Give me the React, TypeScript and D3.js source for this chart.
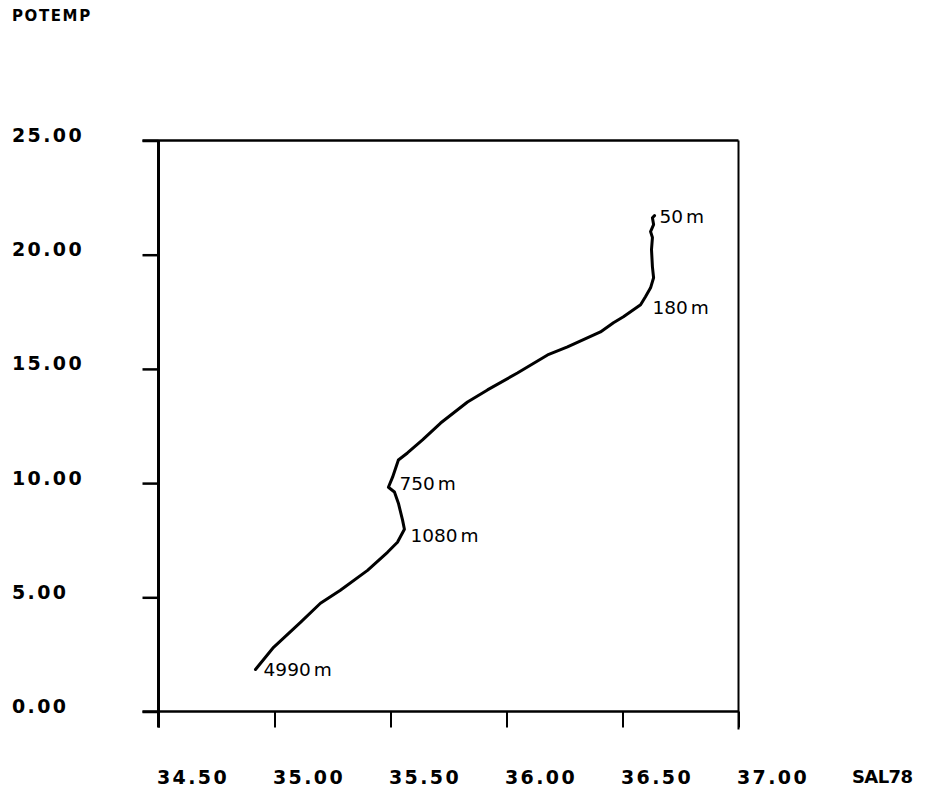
import React, { useEffect, useRef } from 'react';
import * as d3 from 'd3';

// salinity (SAL78) / potential temperature pairs from bottom to surface
const salinity = [
  34.918, 34.996, 35.112, 35.198, 35.284, 35.401, 35.487, 35.53, 35.56, 35.552, 35.534, 35.517, 35.491,
  35.509, 35.534, 35.573, 35.638, 35.716, 35.832, 35.918, 36.047, 36.177, 36.263, 36.405, 36.461, 36.504,
  36.578, 36.599, 36.621, 36.634, 36.629, 36.625, 36.629, 36.621, 36.634, 36.629, 36.638,
];
const potemp = [
  1.84, 2.81, 3.9, 4.74, 5.31, 6.18, 6.97, 7.41, 7.98, 8.38, 9.12, 9.61, 9.82, 10.26, 11.01, 11.32, 11.89,
  12.63, 13.55, 14.08, 14.82, 15.61, 15.96, 16.62, 17.02, 17.28, 17.81, 18.16, 18.55, 18.99, 19.47, 20.22,
  20.75, 21.01, 21.32, 21.62, 21.71,
];

// depth annotations (text anchor in data units)
const depthLabels = ['50', '180', '750', '1080', '4990'];
const depthLabelS = [36.659, 36.629, 35.539, 35.586, 34.953];
const depthLabelT = [21.39, 17.4, 9.7, 7.42, 1.56];

const xTicks = [34.5, 35.0, 35.5, 36.0, 36.5, 37.0];
const yTicks = [0, 5, 10, 15, 20, 25];

export default function App() {
  const ref = useRef<SVGSVGElement>(null);

  function drawChart() {
    const svg = d3.select(ref.current);
    svg.selectAll('*').remove();

    const left = 158.5;
    const right = 738.5;
    const top = 140.5;
    const bottom = 711.5;

    const x = d3.scaleLinear().domain([34.5, 37]).range([left, right]);
    const y = d3.scaleLinear().domain([0, 25]).range([bottom, top]);

    // frame: top and right edges
    svg
      .append('line')
      .attr('x1', left - 16)
      .attr('x2', right)
      .attr('y1', top)
      .attr('y2', top)
      .attr('stroke', '#000')
      .attr('stroke-width', 2.5);
    svg
      .append('line')
      .attr('x1', right)
      .attr('x2', right)
      .attr('y1', top)
      .attr('y2', bottom + 18)
      .attr('stroke', '#000')
      .attr('stroke-width', 2);

    const yAxis = d3
      .axisLeft(y)
      .tickValues(yTicks)
      .tickSize(16)
      .tickSizeOuter(0)
      .tickFormat(d3.format('.2f'));
    const xAxis = d3
      .axisBottom(x)
      .tickValues(xTicks)
      .tickSize(16)
      .tickSizeOuter(0)
      .tickFormat(d3.format('.2f'));

    const tickFont = (sel: any) =>
      sel
        .attr('text-anchor', 'start')
        .attr('fill', '#000')
        .style('font-family', '"DejaVu Sans", sans-serif')
        .style('font-weight', 'bold')
        .style('font-size', '19px')
        .style('letter-spacing', '2.4px');

    const gy = svg.append('g').attr('transform', `translate(${left}, 0)`).call(yAxis);
    gy.select('.domain').remove();
    gy.selectAll('.tick line').attr('stroke', '#000').attr('stroke-width', 2.5);
    gy.selectAll('.tick text')
      .attr('x', 12 - left)
      .attr('dy', 1)
      .call(tickFont);

    const gx = svg.append('g').attr('transform', `translate(0, ${bottom})`).call(xAxis);
    gx.select('.domain').remove();
    gx.selectAll('.tick line').attr('stroke', '#000').attr('stroke-width', 2);
    gx.selectAll('.tick text')
      .attr('x', -2)
      .attr('y', 72)
      .attr('dy', 0)
      .call(tickFont);

    // axis lines
    svg
      .append('line')
      .attr('x1', left)
      .attr('x2', left)
      .attr('y1', top)
      .attr('y2', bottom + 16)
      .attr('stroke', '#000')
      .attr('stroke-width', 3);
    svg
      .append('line')
      .attr('x1', left - 16)
      .attr('x2', right)
      .attr('y1', bottom)
      .attr('y2', bottom)
      .attr('stroke', '#000')
      .attr('stroke-width', 2.5);

    // axis names
    svg
      .append('text')
      .attr('x', 12)
      .attr('y', 21)
      .text('POTEMP')
      .style('font-family', '"DejaVu Sans", sans-serif')
      .style('font-weight', 'bold')
      .style('font-size', '15px')
      .style('letter-spacing', '1.6px');
    svg
      .append('text')
      .attr('x', 852)
      .attr('y', 783)
      .text('SAL78')
      .style('font-family', '"DejaVu Sans", sans-serif')
      .style('font-weight', 'bold')
      .style('font-size', '18px')
      .style('letter-spacing', '-0.6px');

    // profile
    const points = salinity.map((s, i) => [s, potemp[i]] as [number, number]);
    const line = d3
      .line<[number, number]>()
      .x(d => x(d[0]))
      .y(d => y(d[1]));
    svg
      .append('path')
      .datum(points)
      .attr('d', line)
      .attr('fill', 'none')
      .attr('stroke', '#000')
      .attr('stroke-width', 3)
      .attr('stroke-linejoin', 'round')
      .attr('stroke-linecap', 'round');

    const labels = svg
      .selectAll('.depth')
      .data(depthLabels)
      .join('text')
      .attr('class', 'depth')
      .attr('x', (d, i) => x(depthLabelS[i]))
      .attr('y', (d, i) => y(depthLabelT[i]))
      .style('font-family', '"DejaVu Sans", sans-serif')
      .style('font-size', '18.5px');
    labels.append('tspan').text(d => d);
    labels
      .append('tspan')
      .attr('dx', 3)
      .text('m');
  }

  useEffect(() => drawChart(), []);

  return (
    <svg
      ref={ref}
      width={928}
      height={796}
      style={{ position: 'absolute', left: 0, top: 0, background: '#fff' }}
    />
  );
}
